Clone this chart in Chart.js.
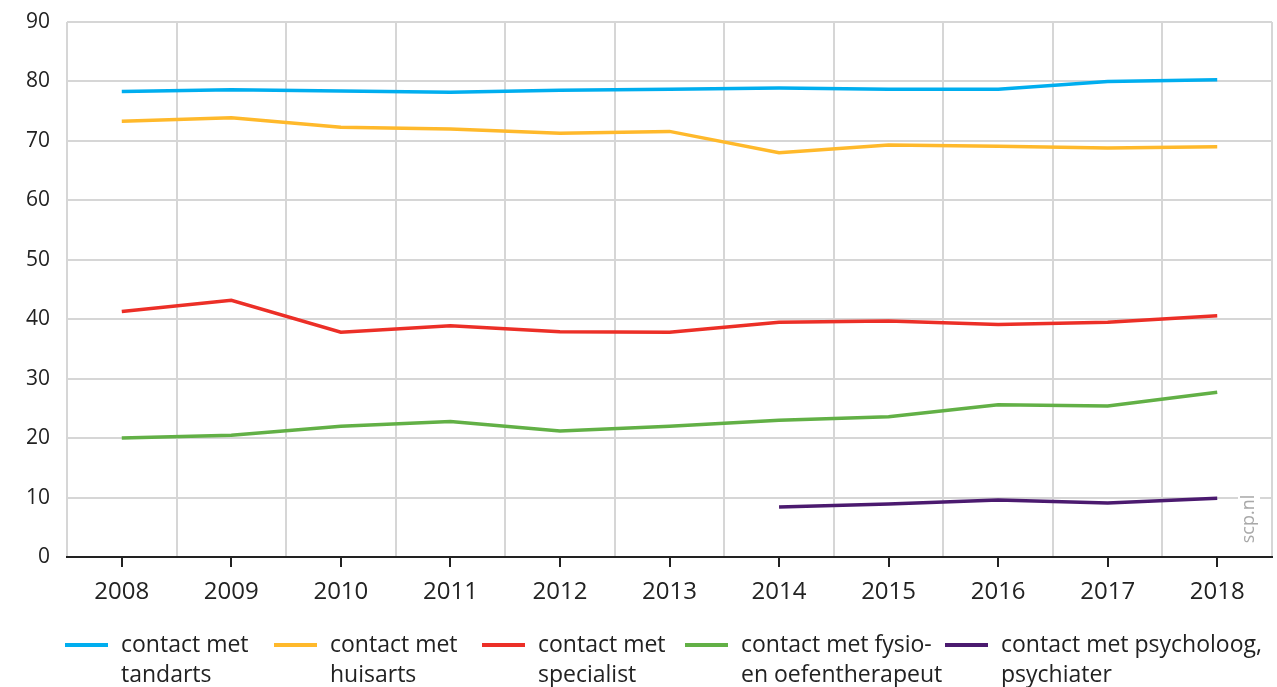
<!DOCTYPE html>
<html>
<head>
<meta charset="utf-8">
<script src="https://cdn.jsdelivr.net/npm/chart.js@4/dist/chart.umd.min.js"></script>
<style>
	html, body { margin: 0; padding: 0; background: #fff; }
	#wrap { width: 1277px; height: 687px; position: relative; }
</style>
</head>
<body>
<div id="wrap"><canvas id="chart" width="1277" height="687"></canvas></div>
<script>
const years = ['2008', '2009', '2010', '2011', '2012', '2013', '2014', '2015', '2016', '2017', '2018'];

const tandarts   = [78.3, 78.6, 78.4, 78.2, 78.5, 78.7, 78.9, 78.7, 78.7, 80.0, 80.3];
const huisarts   = [73.3, 73.9, 72.3, 72.0, 71.3, 71.6, 68.0, 69.3, 69.1, 68.8, 69.0];
const specialist = [41.3, 43.2, 37.8, 38.9, 37.9, 37.8, 39.5, 39.7, 39.1, 39.5, 40.6];
const fysio      = [20.0, 20.5, 22.0, 22.8, 21.2, 22.0, 23.0, 23.6, 25.6, 25.4, 27.7];
const psycholoog = [null, null, null, null, null, null, 8.4, 8.9, 9.6, 9.1, 9.9];

const seriesLabels = [
	['contact met', 'tandarts'],
	['contact met', 'huisarts'],
	['contact met', 'specialist'],
	['contact met fysio-', 'en oefentherapeut'],
	['contact met psycholoog,', 'psychiater']
];
const seriesColors = ['#00aeef', '#ffb92b', '#ec2f27', '#62b046', '#4b1a6f'];
const seriesValues = [tandarts, huisarts, specialist, fysio, psycholoog];

const FONT = '"Open Sans", sans-serif';
const TEXT = '#222222';
const GRID = '#d6d6d6';

// legend columns (line sample start)
const legendX = [65, 274, 482, 685, 945];

// short black tick marks under the axis, at each year
const tickMarks = {
	id: 'tickMarks',
	afterDraw(chart) {
		const x = chart.scales.x;
		const ctx = chart.ctx;
		ctx.save();
		ctx.strokeStyle = TEXT;
		ctx.lineWidth = 2;
		x.ticks.forEach((t, i) => {
			const px = Math.round(x.getPixelForTick(i));
			ctx.beginPath();
			ctx.moveTo(px, x.top);
			ctx.lineTo(px, x.top + 10);
			ctx.stroke();
		});
		ctx.restore();
	}
};

// vertical "scp.nl" in the lower right corner
const sourceLabel = {
	id: 'sourceLabel',
	afterDraw(chart) {
		const area = chart.chartArea;
		const ctx = chart.ctx;
		ctx.save();
		ctx.translate(area.right - 23, area.bottom - 38);
		ctx.rotate(-Math.PI / 2);
		ctx.font = '18px ' + FONT;
		const w = ctx.measureText('scp.nl').width;
		ctx.fillStyle = '#fff';
		ctx.fillRect(-w / 2 - 6, -11, w + 12, 22);
		ctx.fillStyle = '#a8a8a8';
		ctx.textAlign = 'center';
		ctx.textBaseline = 'middle';
		ctx.fillText('scp.nl', 0, 0);
		ctx.restore();
	}
};

// two-line legend along the bottom
const bottomLegend = {
	id: 'bottomLegend',
	afterDraw(chart) {
		const ctx = chart.ctx;
		const y1 = chart.height - 42;
		const y2 = chart.height - 12;
		ctx.save();
		ctx.font = '23px ' + FONT;
		ctx.textBaseline = 'middle';
		ctx.textAlign = 'left';
		chart.data.datasets.forEach((ds, i) => {
			const x = legendX[i];
			ctx.strokeStyle = ds.borderColor;
			ctx.lineWidth = 4;
			ctx.beginPath();
			ctx.moveTo(x, y1);
			ctx.lineTo(x + 43, y1);
			ctx.stroke();
			ctx.fillStyle = TEXT;
			ctx.fillText(ds.label[0], x + 56, y1);
			ctx.fillText(ds.label[1], x + 56, y2);
		});
		ctx.restore();
	}
};

const datasets = seriesValues.map((values, i) => ({
	label: seriesLabels[i],
	data: values,
	borderColor: seriesColors[i],
	backgroundColor: seriesColors[i],
	borderWidth: 3.5,
	pointRadius: 0,
	tension: 0,
	fill: false
}));

new Chart(document.getElementById('chart').getContext('2d'), {
	type: 'line',
	data: { labels: years, datasets: datasets },
	options: {
		responsive: false,
		animation: false,
		layout: { padding: { top: 22, right: 5, bottom: 70, left: 0 } },
		plugins: {
			legend: { display: false },
			tooltip: { enabled: false }
		},
		scales: {
			x: {
				offset: true,
				grid: {
					offset: true,
					drawTicks: false,
					lineWidth: 2,
					color: (c) => c.index === years.length ? 'rgba(0,0,0,0)' : GRID
				},
				border: { display: true, color: TEXT, width: 2 },
				ticks: {
					color: TEXT,
					padding: 21,
					font: { family: FONT, size: 24 }
				},
				afterFit(scale) { scale.height = 60; }
			},
			y: {
				min: 0,
				max: 90,
				grid: { drawTicks: false, lineWidth: 2, color: GRID },
				border: { display: false },
				ticks: {
					stepSize: 10,
					color: TEXT,
					padding: 17,
					font: { family: FONT, size: 21 }
				},
				afterFit(scale) {
					scale.width = 67;
					// top label may stick out above the plot; padding.top covers it
					scale.paddingTop = 0;
					scale.paddingBottom = 0;
				}
			}
		}
	},
	plugins: [tickMarks, sourceLabel, bottomLegend]
});
</script>
</body>
</html>
